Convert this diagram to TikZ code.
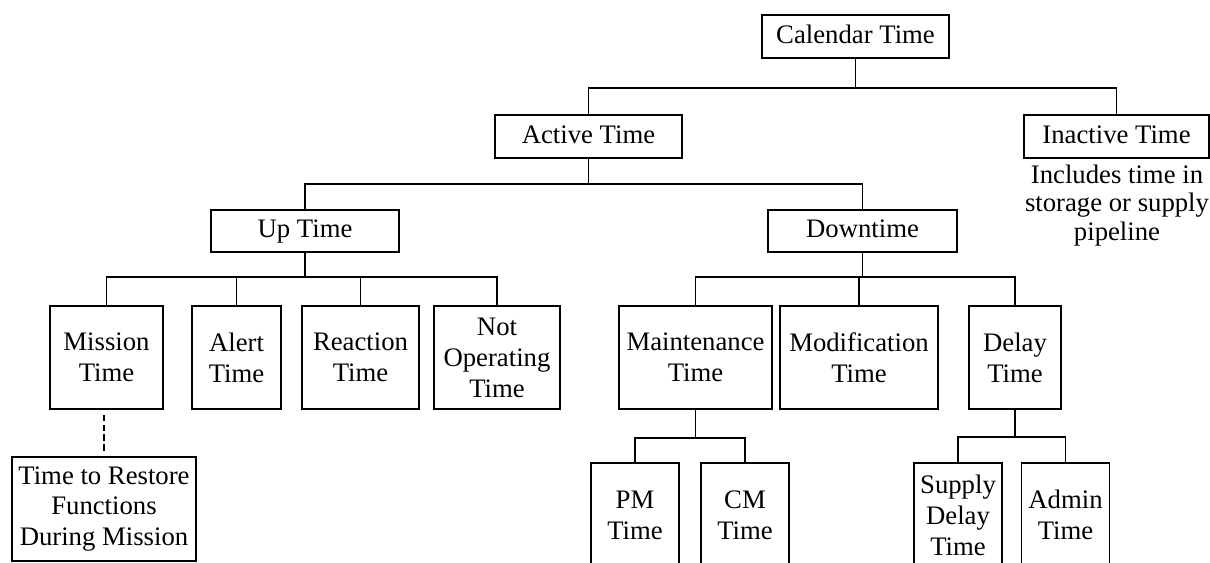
\documentclass[tikz,border=0pt]{standalone}
\usepackage{fontspec}
\setmainfont{Liberation Serif}
\usetikzlibrary{calc}
\begin{document}
\begin{tikzpicture}[x=0.025cm,y=-0.025cm,
    box/.style 2 args={draw,line width=1.1pt,inner sep=0pt,align=center,
      minimum width=#1*0.025cm,minimum height=#2*0.025cm,
      font=\fontsize{19}{22}\selectfont},
    oneline/.style={text height=13.5pt,text depth=4pt},
    note/.style={inner sep=0pt,align=center,font=\fontsize{19}{20}\selectfont},
    link/.style={line width=1.1pt},
    dots/.style={line width=1.5pt,dash pattern=on 4.5pt off 2.5pt}]
    \useasboundingbox (0,0) rectangle (1210,563);
    \clip (0,0) rectangle (1210,563);
    \node[box={187}{43},oneline] (cal) at (855.5,36.5) {Calendar Time};
    \node[box={187}{43},oneline] (act) at (588.5,136.5) {Active Time};
    \node[box={185}{43},oneline] (inact) at (1116.5,136.5) {Inactive Time};
    \node[note,anchor=north] (incl) at (1117,165) {Includes time in\\storage or supply\\pipeline};
    \node[box={188}{42},oneline] (up) at (305,231) {Up Time};
    \node[box={189}{42},oneline] (down) at (862.5,231) {Downtime};
    \foreach \n/\x/\w/\t in {mis/106.5/113/{Mission\\Time},alert/236.5/89/{Alert\\Time},
      react/360.5/117/{Reaction\\Time},notop/497/126/{Not\\Operating\\Time},
      maint/695.5/153/{Maintenance\\Time},modif/859/158/{Modification\\Time},
      delay/1015/92/{Delay\\Time}}
    {
    \node[box={\w}{103}] (\n) at (\x,357.5) {\t};
    }
    \foreach \n/\x/\t in {pm/635/{PM\\Time},cm/745/{CM\\Time},
      supply/958/{Supply\\Delay\\Time},admin/1065.5/{Admin\\Time}}
    {
    \node[box={88}{104}] (\n) at (\x,515) {\t};
    }
    \node[box={184}{104}] (restore) at (104,509) {Time to Restore\\Functions\\During Mission};
    % buses below each parent
    \foreach \p/\d in {cal/29,act/25,up/24,down/24,maint/28,delay/27}
    {
    \coordinate (\p bus) at ($(\p.south)+(0,\d)$);
    }
    \foreach \p/\c in {cal/act,cal/inact,act/up,act/down,up/mis,up/alert,up/react,up/notop,
      down/maint,down/modif,down/delay,maint/pm,maint/cm,delay/supply,delay/admin}
    {
    \draw[link] (\p.south) -- (\p bus) -| (\c.north);
    }
    \draw[dots,shorten <=4pt,shorten >=3pt] (restore.north) -- (restore.north |- mis.south);
\end{tikzpicture}
\end{document}
